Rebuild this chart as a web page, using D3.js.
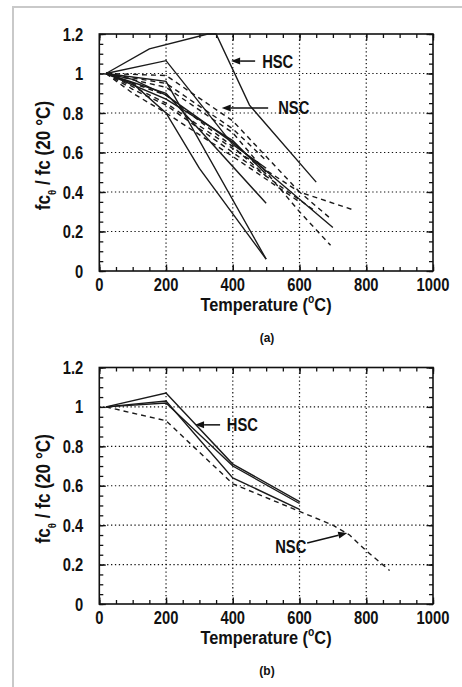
<!DOCTYPE html>
<html>
<head>
<meta charset="utf-8">
<script src="https://cdn.jsdelivr.net/npm/d3@7"></script>
<style>
  body { margin: 0; background: #fff; }
  svg { display: block; font-family: "Liberation Sans", Arial, sans-serif; }
</style>
</head>
<body>
<script>
'use strict';

// axis ticks
const tempTicks = [0, 200, 400, 600, 800, 1000];
const ratioTicks = [0, 0.2, 0.4, 0.6, 0.8, 1, 1.2];
const tempMinor = d3.range(0, 1001, 50);
const ratioMinor = d3.range(0, 1.2001, 0.05);

// (a) high strength concrete, solid lines
const hscA = [
  { t: [20, 150, 325, 350, 450, 650], r: [1, 1.125, 1.2, 1.2, 0.84, 0.45] },
  { t: [20, 200, 400, 500], r: [1, 1.065, 0.64, 0.52] },
  { t: [20, 200, 500], r: [1, 0.96, 0.06] },
  { t: [20, 100, 200, 300, 500], r: [1, 0.95, 0.8, 0.52, 0.06] },
  { t: [20, 100, 200, 400, 700], r: [1, 0.97, 0.89, 0.65, 0.22] },
  { t: [20, 200, 300, 500], r: [1, 0.9, 0.715, 0.343] },
  { t: [20, 200, 400, 500], r: [1, 0.87, 0.66, 0.49] }
];
// (a) normal strength concrete, dashed lines
const nscA = [
  { t: [20, 200, 400, 600, 760], r: [1, 0.99, 0.76, 0.4, 0.31] },
  { t: [20, 200, 400, 600, 693], r: [1, 0.93, 0.7, 0.3, 0.13] },
  { t: [20, 200, 400, 600, 690], r: [1, 0.85, 0.62, 0.4, 0.27] },
  { t: [20, 200, 400, 500], r: [1, 0.95, 0.72, 0.56] },
  { t: [20, 200, 400, 500], r: [1, 0.89, 0.63, 0.48] },
  { t: [20, 100, 200, 400, 600, 650], r: [1, 0.92, 0.84, 0.6, 0.36, 0.3] },
  { t: [20, 100, 200, 400, 600], r: [1, 0.9, 0.8, 0.58, 0.35] }
];

// (b)
const hscB = [
  { t: [20, 200, 400, 600], r: [1, 1.07, 0.71, 0.52] },
  { t: [20, 200, 400, 600], r: [1, 1.03, 0.64, 0.48] },
  { t: [20, 200, 400, 600], r: [1, 1.02, 0.70, 0.51] }
];
const nscB = [
  { t: [20, 200, 400, 600, 700, 750, 800, 870], r: [1, 0.93, 0.61, 0.47, 0.40, 0.35, 0.27, 0.17] }
];

const svg = d3.select("body").append("svg")
  .attr("width", 462)
  .attr("height", 687);

// scan frame
svg.append("path")
  .attr("d", "M13,687V7H462")
  .attr("fill", "none")
  .attr("stroke", "#c9c9c9")
  .attr("stroke-width", 2);

function drawPanel(p) {
  let x = d3.scaleLinear().domain([0, 1000]).range([99.3, 433]);
  let y = d3.scaleLinear().domain([0, 1.2]).range([p.bottom, p.top]);
  let g = svg.append("g");

  // dotted grid
  g.selectAll(".gx").data(tempTicks.slice(1, -1)).enter().append("line")
    .attr("x1", d => x(d)).attr("x2", d => x(d))
    .attr("y1", y(0)).attr("y2", y(1.2))
    .attr("stroke", "#111").attr("stroke-width", 1.2)
    .attr("stroke-dasharray", "1.3,2.6");
  g.selectAll(".gy").data(ratioTicks.slice(1, -1)).enter().append("line")
    .attr("x1", x(0)).attr("x2", x(1000))
    .attr("y1", d => y(d)).attr("y2", d => y(d))
    .attr("stroke", "#111").attr("stroke-width", 1.2)
    .attr("stroke-dasharray", "1.3,2.6");

  // ticks on all four sides, pointing in
  const sides = [
    [d3.axisBottom(x), tempTicks, tempMinor, `translate(0,${y(0)})`],
    [d3.axisTop(x), tempTicks, tempMinor, `translate(0,${y(1.2)})`],
    [d3.axisLeft(y), ratioTicks, ratioMinor, `translate(${x(0)},0)`],
    [d3.axisRight(y), ratioTicks, ratioMinor, `translate(${x(1000)},0)`]
  ];
  sides.forEach(s => {
    let ax = g.append("g").attr("transform", s[3])
      .call(s[0].tickValues(s[2]).tickSize(-4).tickSizeOuter(0).tickFormat(""));
    ax.select(".domain").remove();
    let ax2 = g.append("g").attr("transform", s[3])
      .call(s[0].tickValues(s[1]).tickSize(-6.5).tickSizeOuter(0).tickFormat(""));
    ax2.select(".domain").remove();
    g.selectAll("line").attr("stroke", "#111");
  });
  g.selectAll(".tick line").attr("stroke-width", 1.3);

  // tick labels
  g.selectAll(".xl").data(tempTicks).enter().append("text")
    .attr("transform", d => `translate(${x(d)},${y(0) + 20}) scale(0.82,1)`)
    .attr("text-anchor", "middle")
    .attr("font-size", 18).attr("font-weight", "bold").attr("fill", "#111")
    .text(d => d);
  g.selectAll(".yl").data(ratioTicks).enter().append("text")
    .attr("transform", d => `translate(${x(0) - 16},${y(d) + 6.5}) scale(0.82,1)`)
    .attr("text-anchor", "end")
    .attr("font-size", 18).attr("font-weight", "bold").attr("fill", "#111")
    .text(d => d);

  // frame
  g.append("rect")
    .attr("x", x(0)).attr("y", y(1.2))
    .attr("width", x(1000) - x(0)).attr("height", y(0) - y(1.2))
    .attr("fill", "none").attr("stroke", "#111").attr("stroke-width", 1.6);

  // data lines
  let line = d3.line().x(d => x(d[0])).y(d => y(d[1]));
  let pts = s => s.t.map((t, i) => [t, s.r[i]]);
  g.selectAll(".nsc").data(p.nsc).enter().append("path")
    .attr("d", d => line(pts(d)))
    .attr("fill", "none").attr("stroke", "#1a1a1a").attr("stroke-width", 1.4)
    .attr("stroke-dasharray", "5,4");
  g.selectAll(".hsc").data(p.hsc).enter().append("path")
    .attr("d", d => line(pts(d)))
    .attr("fill", "none").attr("stroke", "#1a1a1a").attr("stroke-width", 1.4);

  // annotations with arrows
  p.notes.forEach(n => {
    let x1 = x(n.from[0]), y1 = y(n.from[1]), x2 = x(n.to[0]), y2 = y(n.to[1]);
    let ang = Math.atan2(y2 - y1, x2 - x1);
    let hl = 9, hw = 3.5;
    let bx = x2 - hl * Math.cos(ang), by = y2 - hl * Math.sin(ang);
    g.append("line")
      .attr("x1", x1).attr("y1", y1).attr("x2", bx).attr("y2", by)
      .attr("stroke", "#111").attr("stroke-width", 1.5);
    g.append("path")
      .attr("d", `M${x2},${y2}L${bx - hw * Math.sin(ang)},${by + hw * Math.cos(ang)}L${bx + hw * Math.sin(ang)},${by - hw * Math.cos(ang)}Z`)
      .attr("fill", "#111");
    g.append("text")
      .attr("transform", `translate(${x(n.text[0])},${y(n.text[1])}) scale(0.82,1)`)
      .attr("font-size", 18).attr("font-weight", "bold").attr("fill", "#111")
      .text(n.label);
  });

  // axis titles
  let xt = g.append("text")
    .attr("transform", `translate(266,${y(0) + 40}) scale(0.86,1)`)
    .attr("text-anchor", "middle")
    .attr("font-size", 19).attr("font-weight", "bold").attr("fill", "#111");
  xt.append("tspan").text("Temperature (");
  xt.append("tspan").attr("font-size", 12).attr("dy", -8).text("o");
  xt.append("tspan").attr("dy", 8).text("C)");

  let mid = (y(0) + y(1.2)) / 2 + 3;
  let yt = g.append("text")
    .attr("transform", `translate(50,${mid}) rotate(-90) scale(0.86,1)`)
    .attr("text-anchor", "middle")
    .attr("font-size", 20).attr("font-weight", "bold").attr("fill", "#111");
  yt.append("tspan").text("fc");
  yt.append("tspan").attr("font-size", 11).attr("dy", 6).text("θ");
  yt.append("tspan").attr("dy", -6).text(" / fc (20 °C)");

  g.append("text")
    .attr("x", 267).attr("y", y(0) + 71)
    .attr("text-anchor", "middle")
    .attr("font-size", 12).attr("font-weight", "bold").attr("fill", "#111")
    .text(p.tag);
}

drawPanel({
  top: 34, bottom: 271, tag: "(a)", hsc: hscA, nsc: nscA,
  notes: [
    { label: "HSC", from: [467, 1.063], to: [395, 1.063], text: [488, 1.03] },
    { label: "NSC", from: [506, 0.825], to: [367, 0.825], text: [536, 0.795] }
  ]
});
drawPanel({
  top: 367.5, bottom: 604, tag: "(b)", hsc: hscB, nsc: nscB,
  notes: [
    { label: "HSC", from: [362, 0.909], to: [287, 0.909], text: [382, 0.877] },
    { label: "NSC", from: [623, 0.31], to: [743, 0.36], text: [527, 0.257] }
  ]
});
</script>
</body>
</html>
